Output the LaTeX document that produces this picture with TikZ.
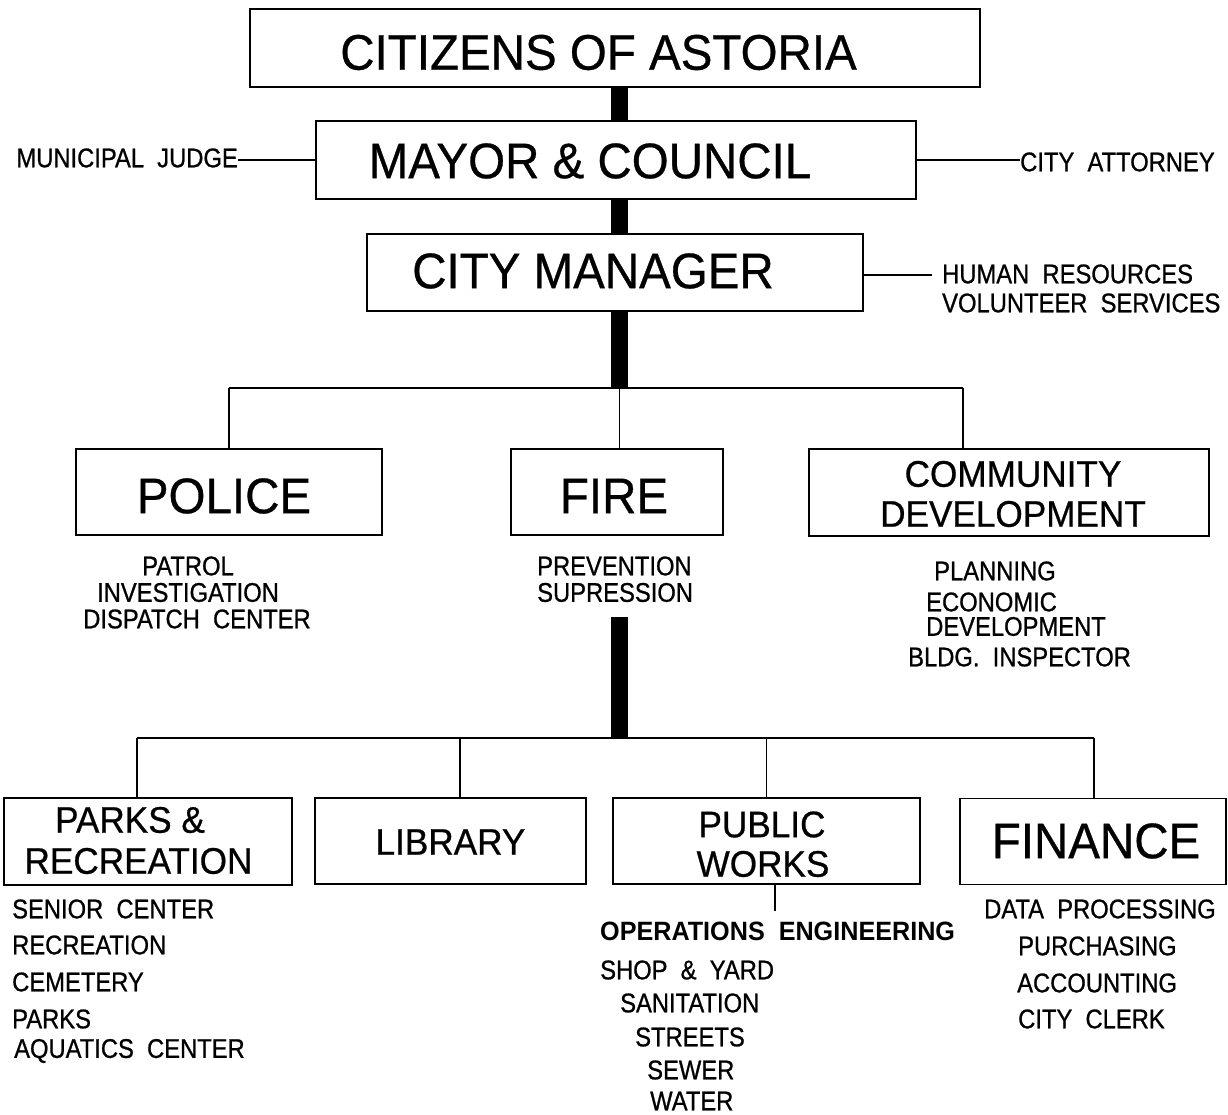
\documentclass[tikz,border=0pt]{standalone}
\usepackage{fontspec}
\setmainfont{Liberation Sans}
\newfontfamily\bigf[FakeStretch=0.95,FakeBold=0.6]{Liberation Sans}
\newfontfamily\cadf[FakeStretch=0.88,FakeBold=0.8]{Liberation Sans}
\newfontfamily\cadb[FakeStretch=0.95]{Liberation Sans Bold}
\begin{document}
\begin{tikzpicture}[x=1pt,y=-1pt,
  box/.style={draw, line width=1.3pt, fill=white, rectangle, inner sep=0pt},
  big/.style={font=\bigf\fontsize{50}{60}\selectfont, inner sep=0pt},
  mid/.style={font=\bigf\fontsize{37}{44}\selectfont, inner sep=0pt},
  sm/.style={font=\cadf\fontsize{27}{32}\selectfont, inner sep=0pt},
  smb/.style={font=\cadb\fontsize{26.5}{32}\selectfont, inner sep=0pt},
  thin/.style={line width=1.3pt},
  bar/.style={line width=17.5pt, line cap=butt}]
\useasboundingbox (0,0) rectangle (1228,1115);
\fill[white] (0,0) rectangle (1228,1115);

% ---------- top boxes ----------
\node[box, minimum width=730pt, minimum height=78pt] (cit) at (615,48) {};
\node[big] (citT) at (598.5,52.5) {CITIZENS OF ASTORIA};
\node[box, minimum width=600pt, minimum height=78pt] (mayor) at (616,160) {};
\node[big] (mayorT) at (590,161) {MAYOR \& COUNCIL};
\node[box, minimum width=496pt, minimum height=77pt] (mgr) at (615,272.5) {};
\node[big] (mgrT) at (593,271) {CITY MANAGER};

\coordinate (bus1) at (619.5,388);
\draw[bar] (bus1 |- cit.south) -- (bus1 |- mayor.north);
\draw[bar] (bus1 |- mayor.south) -- (bus1 |- mgr.north);
\draw[bar] (bus1 |- mgr.south) -- ([yshift=-0.65pt]bus1);

% side texts
\node[sm, anchor=east] (judge) at (238,158) {MUNICIPAL\ \ JUDGE};
\draw[thin] (mayor.west) -- (judge.east |- mayor.west);
\node[sm, anchor=west] (att) at (1020,162) {CITY\ \ ATTORNEY};
\draw[thin] (mayor.east) -- (att.west |- mayor.east);
\node[sm, anchor=west] (hr) at (942,274) {HUMAN\ \ RESOURCES};
\node[sm, anchor=west] (vol) at (942,303) {VOLUNTEER\ \ SERVICES};
\coordinate (hrend) at (932,275);
\draw[thin] (mgr.east |- hrend) -- (hrend);

% ---------- second level ----------
\node[box, minimum width=306pt, minimum height=86pt] (police) at (229,492) {};
\node[big] (policeT) at (224,496) {POLICE};
\node[box, minimum width=212pt, minimum height=86pt] (fire) at (617,492) {};
\node[big] (fireT) at (614,496) {FIRE};
\node[box, minimum width=400pt, minimum height=87pt] (comm) at (1009,492.5) {};
\node[mid] (commT1) at (1013,474) {COMMUNITY};
\node[mid] (commT2) at (1013,514) {DEVELOPMENT};

\coordinate (cdrop) at (963,388);
\draw[thin] (police.north |- bus1) -- (cdrop);
\draw[thin] (police.north |- bus1) -- (police.north);
\draw[thin] (bus1) -- (bus1 |- fire.north);
\draw[thin] (cdrop) -- (cdrop |- comm.north);

\node[sm] (pol1) at (188,566) {PATROL};
\node[sm] (pol2) at (188,592.5) {INVESTIGATION};
\node[sm] (pol3) at (197,619) {DISPATCH\ \ CENTER};
\node[sm, anchor=west] (fir1) at (537,566) {PREVENTION};
\node[sm, anchor=west] (fir2) at (537,592.5) {SUPRESSION};
\node[sm, anchor=west] (com1) at (934,571) {PLANNING};
\node[sm, anchor=west] (com2) at (926,602) {ECONOMIC};
\node[sm, anchor=west] (com3) at (926,626.5) {DEVELOPMENT};
\node[sm, anchor=west] (com4) at (908,657) {BLDG.\ \ INSPECTOR};

% ---------- third level ----------
\coordinate (bar2top) at (619.5,617);
\coordinate (bus2) at (619.5,738);
\draw[bar] (bar2top) -- ([yshift=-0.65pt]bus2);

\node[box, minimum width=288pt, minimum height=87pt] (parks) at (148,841.5) {};
\node[mid] (parksT1) at (130,820) {PARKS \&};
\node[mid] (parksT2) at (138.5,861) {RECREATION};
\node[box, minimum width=271pt, minimum height=86pt] (lib) at (450.5,841) {};
\node[mid] (libT) at (450.5,842) {LIBRARY};
\node[box, minimum width=307pt, minimum height=86pt] (pw) at (766.5,841) {};
\node[mid] (pwT1) at (762,824.5) {PUBLIC};
\node[mid] (pwT2) at (763,864) {WORKS};
\node[box, minimum width=266pt, minimum height=86pt] (fin) at (1093,841.5) {};
\node[big] (finT) at (1096,841) {FINANCE};

\coordinate (pdrop) at (137,738);
\coordinate (ldrop) at (460,738);
\coordinate (fdrop) at (1094,738);
\draw[thin] (pdrop) -- (fdrop);
\draw[thin] (pdrop) -- (pdrop |- parks.north);
\draw[thin] (ldrop) -- (ldrop |- lib.north);
\draw[thin] (pw.north |- bus2) -- (pw.north);
\draw[thin] (fdrop) -- (fdrop |- fin.north);

\coordinate (pwstub) at (775,911);
\draw[thin] (pwstub |- pw.south) -- (pwstub);

% sub texts
\node[sm, anchor=west] (pk1) at (12,909) {SENIOR\ \ CENTER};
\node[sm, anchor=west] (pk2) at (12,945) {RECREATION};
\node[sm, anchor=west] (pk3) at (12,982) {CEMETERY};
\node[sm, anchor=west] (pk4) at (12,1019) {PARKS};
\node[sm, anchor=west] (pk5) at (14,1051) {AQUATICS\ \ CENTER};

\node[smb, anchor=west] (ops) at (600,931) {OPERATIONS\ \ ENGINEERING};
\node[sm, anchor=west] (pw1) at (600,970) {SHOP\ \ \&\ \ YARD};
\node[sm, anchor=west] (pw2) at (620,1003) {SANITATION};
\node[sm, anchor=west] (pw3) at (635,1037) {STREETS};
\node[sm, anchor=west] (pw4) at (647,1070) {SEWER};
\node[sm, anchor=west] (pw5) at (650,1101) {WATER};

\node[sm, anchor=west] (fn1) at (984,909) {DATA\ \ PROCESSING};
\node[sm, anchor=west] (fn2) at (1018,946) {PURCHASING};
\node[sm, anchor=west] (fn3) at (1017,983) {ACCOUNTING};
\node[sm, anchor=west] (fn4) at (1018,1019) {CITY\ \ CLERK};
\end{tikzpicture}
\end{document}
